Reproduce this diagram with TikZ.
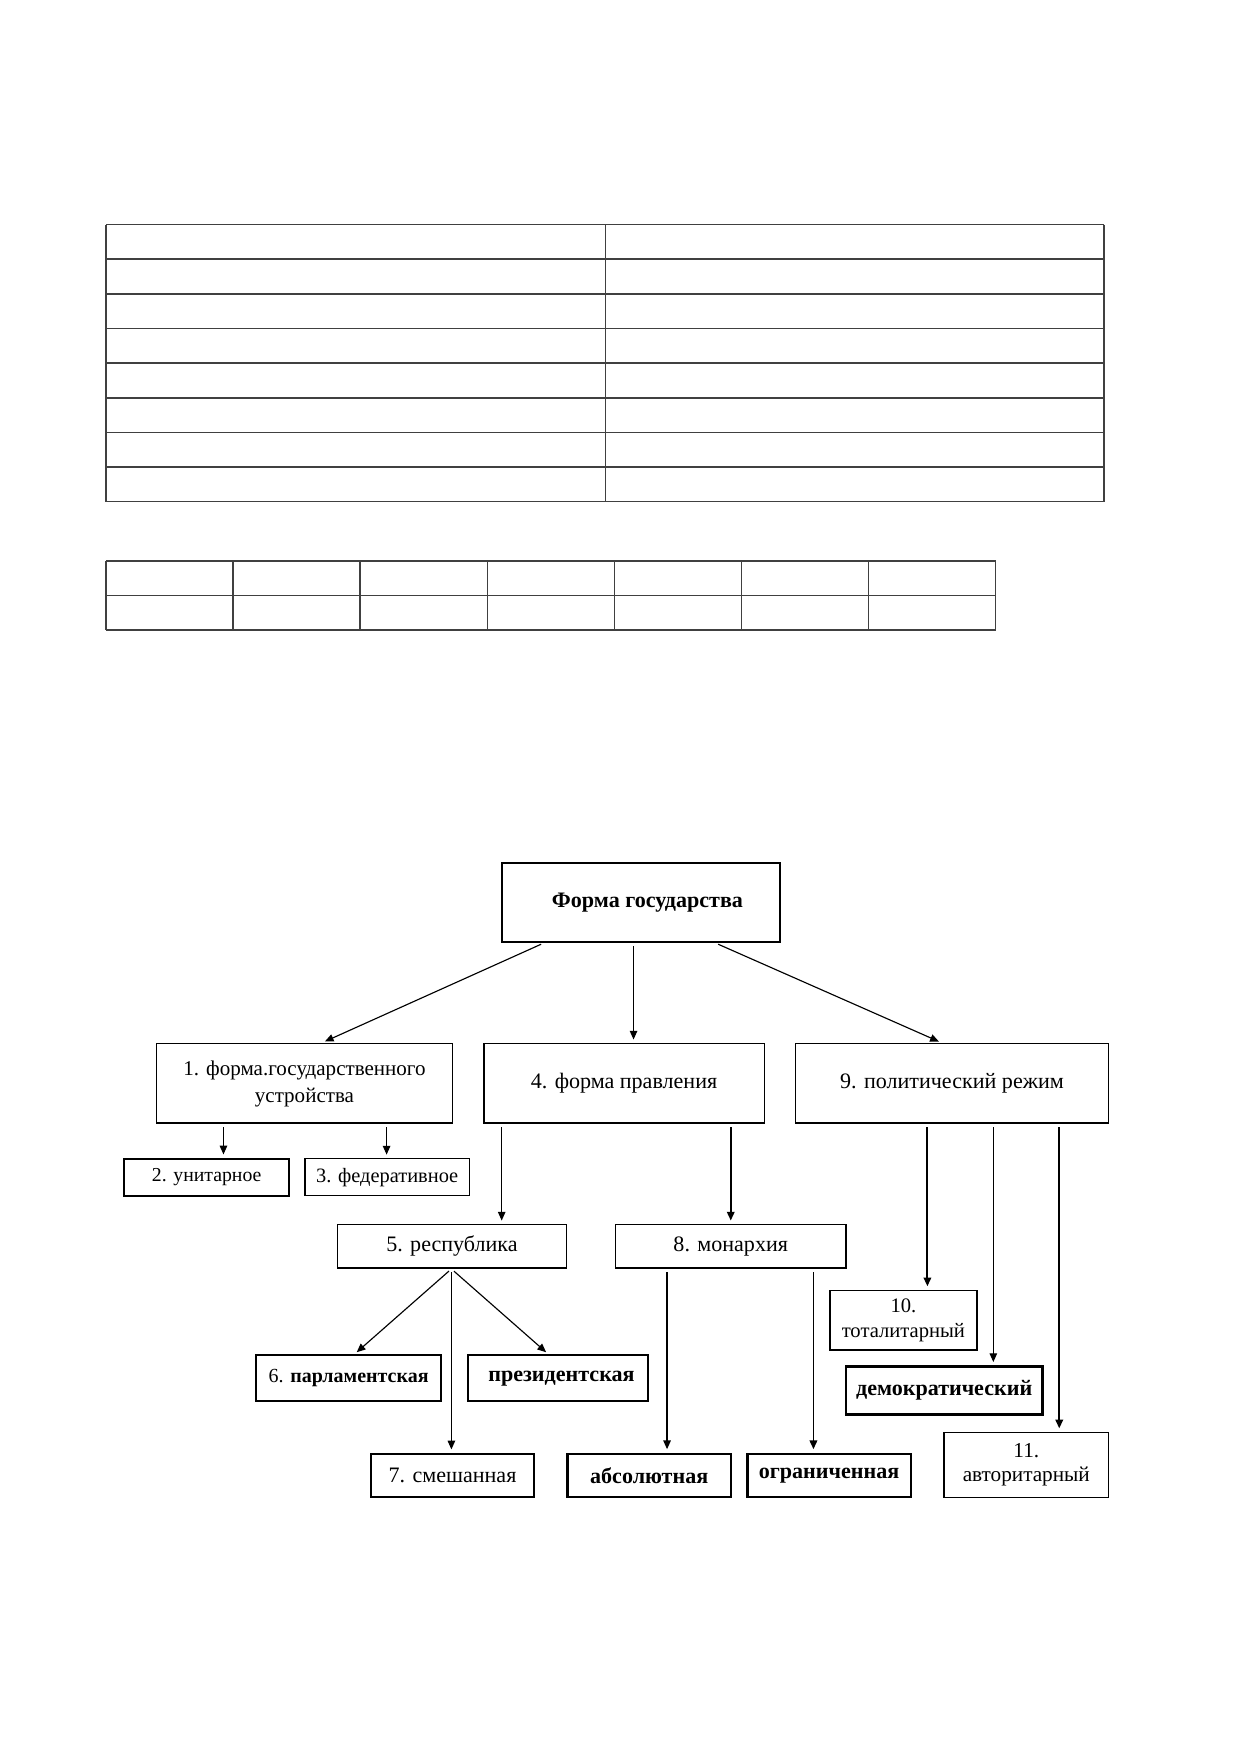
\documentclass[tikz,border=0pt]{standalone}
\usepackage{fontspec}
\setmainfont{Liberation Serif}
\usetikzlibrary{arrows.meta,calc}
\newlength\pu
\setlength\pu{0.5368pt}
\newcommand{\fsz}[1]{\fontsize{#1}{12.6}\selectfont}
\begin{document}
\begin{tikzpicture}[x=0.5368pt,y=-0.5368pt,
  tbl/.style={draw=black!75, line width=0.75pt},
  box/.style={draw, line width=0.7pt, inner sep=0pt, align=center, font=\fsz{10.6}},
  boxb/.style={box, line width=1.1pt},
  arr/.style={-{Triangle[length=4.2pt,width=3.6pt]}, line width=0.55pt, shorten <=1.6pt, shorten >=1.6pt},
  arrt/.style={arr, line width=0.9pt}]
\useasboundingbox (0,0) rectangle (1109,1568);
\fill[white] (0,0) rectangle (1109,1568);
% table 1
\foreach \k in {0,...,8} \draw[tbl] (95,201+31*\k) -- (988,201+31*\k);
\foreach \xx in {95,542,988} \draw[tbl] (\xx,201) -- (\xx,449);
% table 2
\foreach \yy in {502,533,564} \draw[tbl] (95,\yy) -- (891,\yy);
\foreach \k in {0,...,7} \draw[tbl] (95+113.714*\k,502) -- (95+113.714*\k,564);
% boxes
\node[box, line width=0.9pt, minimum width=249\pu, minimum height=71\pu] (top) at (573.5,807.5) {\hspace*{12\pu}\textbf{Форма государства}};
\node[box, font=\fontsize{10.1}{12.9}\selectfont, minimum width=265\pu, minimum height=71\pu] (b1) at (272.5,969.5) {\raisebox{3pt}{\begin{tabular}{@{}c@{}}1. форма.государственного\\устройства\end{tabular}}};
\node[box, minimum width=251\pu, minimum height=71\pu] (b4) at (558.5,969.5) {4. форма правления};
\node[box, minimum width=280\pu, minimum height=71\pu] (b9) at (852,969.5) {9. политический режим};
\node[box, font=\fsz{9.5}, line width=0.9pt, minimum width=148\pu, minimum height=33\pu] (b2) at (185,1053.5) {2. унитарное};
\node[box, font=\fsz{9.8}, minimum width=147\pu, minimum height=33\pu] (b3) at (346.5,1053.5) {3. федеративное};
\node[box, minimum width=205\pu, minimum height=39\pu] (b5) at (404.5,1115.5) {5. республика};
\node[box, minimum width=206\pu, minimum height=39\pu] (b8) at (654,1115.5) {8. монархия};
\node[box, font=\fsz{9.6}, line width=0.9pt, minimum width=166\pu, minimum height=41\pu] (b6) at (312,1233.5) {6. \textbf{парламентская}};
\node[box, line width=0.9pt, minimum width=161\pu, minimum height=41\pu] (bP) at (499.5,1233.5) {\hspace*{6\pu}\textbf{президентская}};
\node[box, line width=0.9pt, minimum width=146\pu, minimum height=39\pu] (b7) at (405,1320.5) {7. смешанная};
\node[boxb, minimum width=146\pu, minimum height=39\pu] (bA) at (581,1320.5) {\textbf{абсолютная}};
\node[boxb, minimum width=146\pu, minimum height=39\pu] (bO) at (742,1320.5) {\textbf{ограниченная}};
\node[box, font=\fontsize{9.9}{12}\selectfont, line width=0.9pt, minimum width=131\pu, minimum height=53\pu] (b10) at (808.5,1181.5) {10.\\тоталитарный};
\node[boxb, minimum width=176\pu, minimum height=43\pu] (bD) at (845,1244.5) {\textbf{демократический}};
\node[box, font=\fontsize{10.2}{11.6}\selectfont, minimum width=147\pu, minimum height=58\pu] (b11) at (918.5,1311) {11.\\авторитарный};
% column coordinates
\coordinate (x200) at (200,0);
\coordinate (x346) at (346,0);
\coordinate (x449) at (449,0);
\coordinate (x654) at (654,0);
\coordinate (x597) at (597,0);
\coordinate (x728) at (728,0);
\coordinate (x830) at (830,0);
\coordinate (x889) at (889,0);
\coordinate (x948) at (948,0);
\coordinate (x487) at (487,0);
\coordinate (x640) at (640,0);
\coordinate (x567) at (567,0);
\coordinate (x288) at (288,0);
\coordinate (x843) at (843,0);
\coordinate (x404) at (404,0);
\coordinate (x317) at (317,0);
\coordinate (x491) at (491,0);
% connectors
\draw[arr] (top.south -| x487) -- (b1.north -| x288);
\draw[arr] (top.south -| x567) -- (b4.north -| x567);
\draw[arr] (top.south -| x640) -- (b9.north -| x843);
\draw[arr] (b1.south -| x200) -- (b2.north -| x200);
\draw[arr] (b1.south -| x346) -- (b3.north -| x346);
\draw[arr] (b4.south -| x449) -- (b5.north -| x449);
\draw[arrt] (b4.south -| x654) -- (b8.north -| x654);
\draw[arr] (b5.south -| x404) -- (b6.north -| x317);
\draw[arr] (b5.south -| x404) -- (b7.north -| x404);
\draw[arr] (b5.south -| x404) -- (bP.north -| x491);
\draw[arr] (b8.south -| x597) -- (bA.north -| x597);
\draw[arrt] (b8.south -| x728) -- (bO.north -| x728);
\draw[arrt] (b9.south -| x830) -- (b10.north -| x830);
\draw[arr] (b9.south -| x889) -- (bD.north -| x889);
\draw[arrt] (b9.south -| x948) -- (b11.north -| x948);
\end{tikzpicture}
\end{document}
